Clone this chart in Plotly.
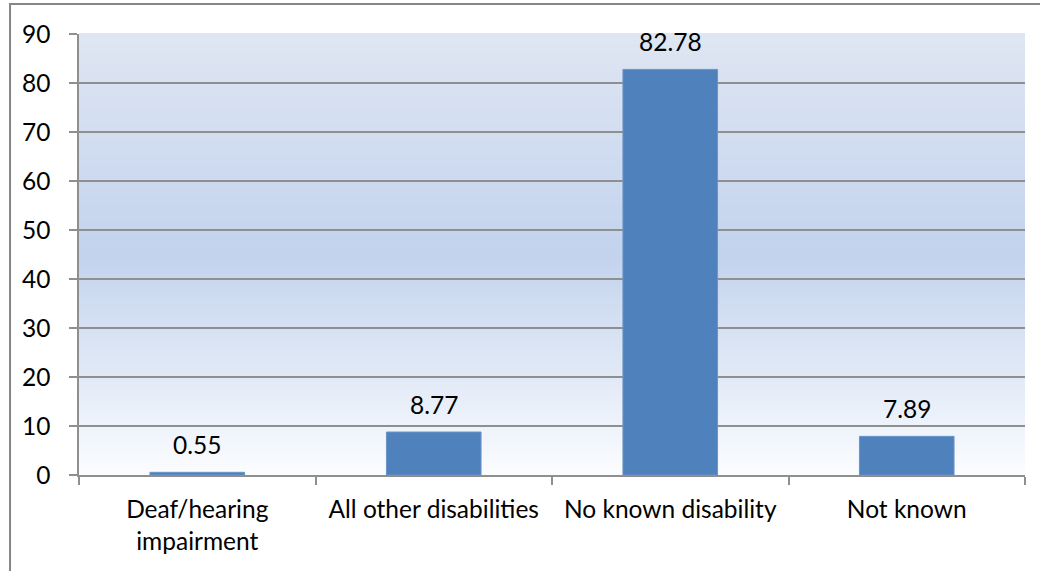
import plotly.graph_objects as go

# Share of each disability group (%)
categories = ["Deaf/hearing<br>impairment", "All other disabilities", "No known disability", "Not known"]
values = [0.55, 8.77, 82.78, 7.89]
y_ticks = [0, 10, 20, 30, 40, 50, 60, 70, 80, 90]

BAR_COLOR = "#4F81BD"
GRID = "#8f8f8f"
FONT = "Lato"
FS = 24.5

fig = go.Figure()
fig.add_trace(go.Bar(
    x=categories, y=values,
    marker=dict(color=BAR_COLOR, line=dict(color="#6a95c8", width=1)),
    hoverinfo="x+y",
))

# value labels above each bar
for c, v in zip(categories, values):
    fig.add_annotation(x=c, y=v, text=f"{v:.2f}", showarrow=False,
                       yanchor="bottom", yshift=11,
                       font=dict(family=FONT, size=FS, color="#000000"))

# vertical gradient behind the plot area
def lerp(a, b, t):
    return tuple(round(a[i] + (b[i] - a[i]) * t) for i in range(3))

stops = [(0.0, (251, 252, 254)), (0.5, (195, 211, 237)), (1.0, (223, 230, 243))]
n = 90
shapes = []
for i in range(n):
    t = (i + 0.5) / n
    for j in range(len(stops) - 1):
        if stops[j][0] <= t <= stops[j + 1][0]:
            tt = (t - stops[j][0]) / (stops[j + 1][0] - stops[j][0])
            col = lerp(stops[j][1], stops[j + 1][1], tt)
            break
    shapes.append(dict(type="rect", xref="paper", yref="paper",
                       x0=0, x1=1, y0=i / n, y1=(i + 1) / n + 0.002,
                       fillcolor="rgb(%d,%d,%d)" % col, line=dict(width=0),
                       layer="below"))

# outer chart frame
shapes.append(dict(type="rect", xref="paper", yref="paper",
                   x0=-0.0729, x1=1.05, y0=-0.35, y1=1.068,
                   line=dict(color="#868686", width=2), layer="below"))

fig.update_layout(
    width=1040, height=571,
    margin=dict(l=79, r=15, t=34, b=96),
    paper_bgcolor="white",
    plot_bgcolor="rgba(0,0,0,0)",
    bargap=0.6,
    showlegend=False,
    shapes=shapes,
    font=dict(family=FONT, size=FS, color="#000000"),
)
fig.update_yaxes(
    range=[0, 90], tickvals=y_ticks, ticktext=[str(t) for t in y_ticks],
    showgrid=True, gridcolor=GRID, gridwidth=1.5,
    showline=True, linecolor=GRID, linewidth=1.5,
    ticks="outside", ticklen=8, tickcolor=GRID, tickwidth=1.5,
    zeroline=False, ticklabelstandoff=14,
    tickfont=dict(family=FONT, size=FS),
)
fig.update_xaxes(
    showline=True, linecolor=GRID, linewidth=1.5,
    ticks="outside", ticklen=8, tickcolor=GRID, tickwidth=1.5,
    tickson="boundaries", showgrid=False, ticklabelstandoff=12,
    tickfont=dict(family=FONT, size=FS),
)

fig.write_html("out.html")
